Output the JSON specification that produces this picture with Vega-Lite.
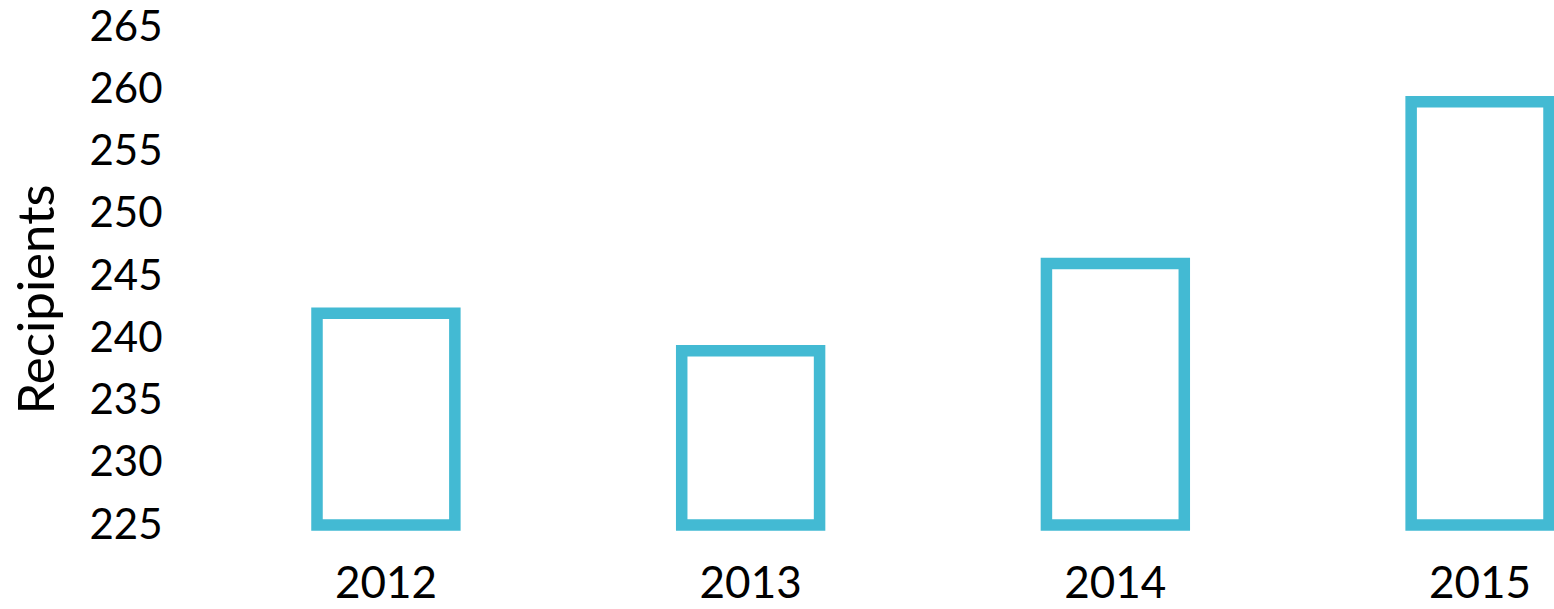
{
  "$schema": "https://vega.github.io/schema/vega-lite/v6.json",
  "autosize": {"type": "none"},
  "width": 1232,
  "height": 498,
  "padding": {"left": 317, "top": 27, "right": 5, "bottom": 84},
  "background": "white",
  "config": {"view": {"stroke": null}, "font": "Lato"},
  "data": {"values": [
    {"year": "2012", "recipients": 242, "base": 225},
    {"year": "2013", "recipients": 239, "base": 225},
    {"year": "2014", "recipients": 246, "base": 225},
    {"year": "2015", "recipients": 259, "base": 225}
  ]},
  "mark": {"type": "bar", "fill": "white", "stroke": "#43BAD3", "strokeWidth": 11.5, "clip": false},
  "encoding": {
    "x": {
      "field": "year", "type": "ordinal",
      "scale": {"paddingInner": 0.622, "paddingOuter": 0},
      "axis": {"title": null, "labelAngle": 0, "ticks": false, "domain": false, "labelFontSize": 44, "labelColor": "black", "labelPadding": 37, "labelFont": "Lato"}
    },
    "y": {
      "field": "recipients", "type": "quantitative",
      "scale": {"domain": [225, 265], "zero": false, "nice": false},
      "axis": {"title": "Recipients", "grid": false, "ticks": false, "domain": false, "values": [225, 230, 235, 240, 245, 250, 255, 260, 265], "labelFontSize": 42, "labelColor": "black", "labelPadding": 5, "offset": 150, "labelFont": "Lato", "titleFont": "Lato", "titleFontSize": 51, "titleFontWeight": "normal", "titleColor": "black", "titleX": -103, "titleY": 272}
    },
    "y2": {"field": "base"}
  }
}
